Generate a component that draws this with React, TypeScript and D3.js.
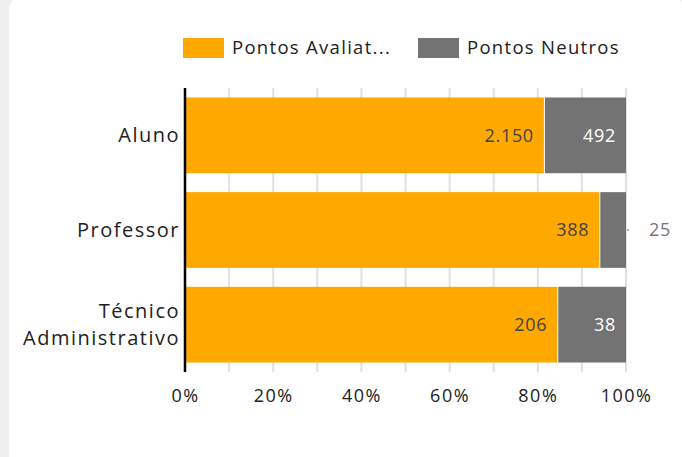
import React, { useEffect, useRef } from 'react';
import * as d3 from 'd3';

const categories = ['Aluno', 'Professor', 'Técnico Administrativo'];
const avaliados = [2150, 388, 206];
const neutros = [492, 25, 38];
const seriesNames = ['Pontos Avaliat...', 'Pontos Neutros'];
const xTicks = [0, 0.2, 0.4, 0.6, 0.8, 1];

const FONT = "'Open Sans', sans-serif";
const ORANGE = '#ffa800';
const GRAY = '#737373';

const App = () => {
  const ref = useRef<SVGSVGElement>(null);

  useEffect(() => {
    const svg = d3.select(ref.current);
    svg.selectAll('*').remove();

    const width = 682;
    const height = 457;
    const margin = { top: 88, right: 56, bottom: 85, left: 185 };

    // background card
    svg.append('rect').attr('width', width).attr('height', height).attr('fill', '#f0f0f0');
    svg.append('rect')
      .attr('x', 9).attr('y', -2)
      .attr('width', width - 7).attr('height', height + 20)
      .attr('rx', 10).attr('fill', '#fff');

    const data = categories.map((c, i) => {
      const total = avaliados[i] + neutros[i];
      return { category: c, a: avaliados[i], n: neutros[i], pa: avaliados[i] / total, pn: neutros[i] / total };
    });

    const x = d3.scaleLinear().domain([0, 1]).range([margin.left, width - margin.right]);
    const y = d3.scaleBand()
      .domain(categories)
      .range([margin.top, height - margin.bottom])
      .paddingInner(0.2)
      .paddingOuter(0.1);

    // grid lines every 10%
    svg.append('g')
      .selectAll('line')
      .data(d3.range(1, 11).map(d => d / 10))
      .enter().append('line')
        .attr('x1', d => x(d)).attr('x2', d => x(d))
        .attr('y1', margin.top).attr('y2', height - margin.bottom)
        .attr('stroke', '#e0e0e0').attr('stroke-width', 2);

    // bars
    const g = svg.append('g');
    g.selectAll('rect.a')
      .data(data)
      .enter().append('rect')
        .attr('class', 'a')
        .attr('x', x(0))
        .attr('y', d => y(d.category)!)
        .attr('width', d => x(d.pa) - x(0))
        .attr('height', y.bandwidth())
        .attr('fill', ORANGE);
    g.selectAll('rect.n')
      .data(data)
      .enter().append('rect')
        .attr('class', 'n')
        .attr('x', d => x(d.pa) + 1)
        .attr('y', d => y(d.category)!)
        .attr('width', d => x(1) - x(d.pa) - 1)
        .attr('height', y.bandwidth())
        .attr('fill', GRAY);

    // value labels
    const mid = (d: any) => y(d.category)! + y.bandwidth() / 2;
    g.selectAll('text.a')
      .data(data)
      .enter().append('text')
        .attr('x', d => x(d.pa) - 10)
        .attr('y', mid)
        .attr('dy', '0.35em')
        .attr('text-anchor', 'end')
        .attr('font-family', FONT).attr('font-size', 18)
        .attr('letter-spacing', 0.7)
        .attr('fill', '#444')
        .text(d => d3.format(',')(d.a).replace(/,/g, '.'));

    data.forEach(d => {
      const segW = x(1) - x(d.pa);
      if (segW > 40) {
        g.append('text')
          .attr('x', x(1) - 10).attr('y', mid(d)).attr('dy', '0.35em')
          .attr('text-anchor', 'end')
          .attr('font-family', FONT).attr('font-size', 18)
          .attr('letter-spacing', 0.7)
          .attr('fill', '#fff')
          .text(d.n);
      } else {
        g.append('line')
          .attr('x1', x(1) + 1).attr('x2', x(1) + 3)
          .attr('y1', mid(d)).attr('y2', mid(d))
          .attr('stroke', '#999').attr('stroke-width', 1.5);
        g.append('text')
          .attr('x', x(1) + 23).attr('y', mid(d)).attr('dy', '0.35em')
          .attr('font-family', FONT).attr('font-size', 18)
          .attr('letter-spacing', 0.7)
          .attr('fill', '#777')
          .text(d.n);
      }
    });

    // y axis
    svg.append('line')
      .attr('x1', x(0)).attr('x2', x(0))
      .attr('y1', margin.top).attr('y2', height - margin.bottom)
      .attr('stroke', '#000').attr('stroke-width', 2.5);

    const yl = svg.append('g');
    data.forEach(d => {
      const words = d.category.split(' ');
      const t = yl.append('text')
        .attr('text-anchor', 'end')
        .attr('font-family', FONT).attr('font-size', 20)
        .attr('letter-spacing', 1.5)
        .attr('fill', '#222');
      const lh = 27;
      words.forEach((w, i) => {
        t.append('tspan')
          .attr('x', x(0) - 5)
          .attr('y', mid(d) + (i - (words.length - 1) / 2) * lh)
          .attr('dy', '0.35em')
          .text(w);
      });
    });

    // x axis labels
    const xAxis = d3.axisBottom(x)
      .tickValues(xTicks)
      .tickSize(0)
      .tickPadding(17)
      .tickFormat(d3.format('.0%') as any);
    const xa = svg.append('g')
      .attr('transform', `translate(0, ${height - margin.bottom})`)
      .call(xAxis);
    xa.select('.domain').remove();
    xa.selectAll('text')
      .attr('font-family', FONT).attr('font-size', 18)
      .attr('letter-spacing', 1.5)
      .attr('fill', '#222');

    // legend
    const legend = svg.append('g').attr('transform', 'translate(183, 38)');
    const offsets = [0, 235];
    seriesNames.forEach((name, i) => {
      const lg = legend.append('g').attr('transform', `translate(${offsets[i]}, 0)`);
      lg.append('rect').attr('width', 41).attr('height', 20).attr('fill', i === 0 ? ORANGE : GRAY);
      lg.append('text')
        .attr('x', 49).attr('y', 10).attr('dy', '0.35em')
        .attr('font-family', FONT).attr('font-size', 18.5)
        .attr('letter-spacing', 1.3)
        .attr('fill', '#222')
        .text(name);
    });
  }, []);

  return (
    <svg ref={ref} width="682" height="457" style={{ position: 'absolute', left: 0, top: 0 }}></svg>
  );
};

export default App;
